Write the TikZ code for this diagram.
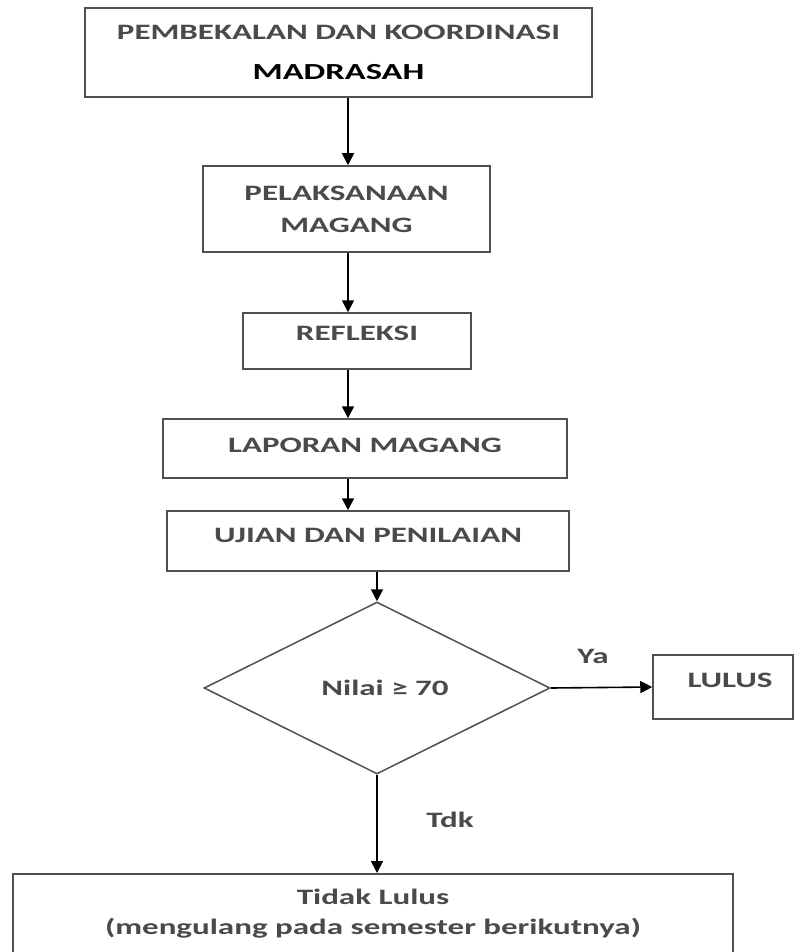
\documentclass[tikz,border=0pt]{standalone}
\usepackage{fontspec}
\setmainfont{Carlito}
\usepackage{graphicx}
\usetikzlibrary{arrows.meta,shapes.geometric}
\definecolor{edgec}{HTML}{505050}
\definecolor{txtc}{HTML}{4A4A4A}
\newcommand\sx[1]{\scalebox{1.5}[1]{#1}}
\begin{document}
\begin{tikzpicture}[x=1pt,y=-1pt,
  box/.style={draw=edgec,line width=1.5pt,rectangle,inner sep=0pt,font=\fontsize{22}{26}\selectfont\bfseries,text=txtc,align=center},
  capt/.style={text height=14.2pt,text depth=#1},
  arr/.style={draw=black,line width=1.6pt,-{Triangle[length=12pt,width=12pt]}},
  lbl/.style={font=\fontsize{22}{26}\selectfont\bfseries,text=txtc,inner sep=0pt}]
\clip (0,0) rectangle (799,952);
\fill[white] (0,0) rectangle (799,952);
\node[box,minimum width=507pt,minimum height=89pt,font=\fontsize{22}{40}\selectfont\bfseries] (b1) at (338.5,52.5)
  {\sx{PEMBEKALAN DAN KOORDINASI}\\\sx{\color{black}\fontsize{23}{23}\selectfont MADRASAH}};
\node[box,minimum width=287pt,minimum height=86pt,font=\fontsize{22}{32}\selectfont\bfseries] (b2) at (346.5,209)
  {\sx{PELAKSANAAN}\\\sx{MAGANG}};
\node[box,capt=16pt,minimum width=228pt,minimum height=56pt] (b3) at (357,341) {\sx{REFLEKSI}};
\node[box,capt=7pt,minimum width=404pt,minimum height=59pt] (b4) at (365,448.5) {\sx{LAPORAN MAGANG}};
\node[box,capt=12pt,minimum width=402pt,minimum height=60pt] (b5) at (368,541) {\sx{UJIAN DAN PENILAIAN}};
\node[draw=edgec,shape=diamond,line width=1.5pt,minimum width=346pt,minimum height=172pt,inner sep=0pt,
  font=\fontsize{22}{26}\selectfont\bfseries,text=txtc] (d) at (377,688) {\hspace*{16pt}\sx{Nilai ≥ 70}};
\node[box,capt=14pt,minimum width=140pt,minimum height=64pt] (lulus) at (723,687) {\hspace*{14pt}\sx{LULUS}};
\node[box,anchor=north,minimum width=720pt,minimum height=100pt,text height=27pt,text depth=5pt,
  font=\fontsize{22}{30}\selectfont\bfseries] (tl) at (373,873)
  {\sx{Tidak Lulus}\\\sx{(mengulang pada semester berikutnya)}};
\coordinate (ax) at (348,0);
\draw[arr] (b1.south -| ax) -- (b2.north -| ax);
\draw[arr] (b2.south -| ax) -- (b3.north -| ax);
\draw[arr] (b3.south -| ax) -- (b4.north -| ax);
\draw[arr] (b4.south -| ax) -- (b5.north -| ax);
\draw[arr] (b5.south -| d.north) -- (d.north);
\draw[arr] (d.east) -- (lulus.west);
\draw[arr] (d.south) -- (d.south |- tl.north);
\node[lbl] (ya) at (593,656) {\sx{Ya}};
\node[lbl] (tdk) at (450,820) {\sx{Tdk}};
\end{tikzpicture}
\end{document}
